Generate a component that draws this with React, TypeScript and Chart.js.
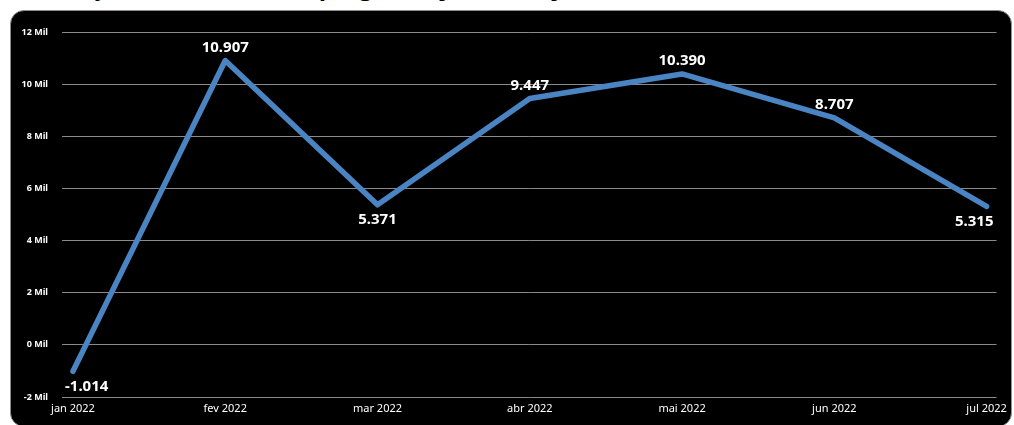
import { useEffect, useRef } from "react";
import { Chart, registerables } from "chart.js";

Chart.register(...registerables);

const categories = ["jan 2022", "fev 2022", "mar 2022", "abr 2022", "mai 2022", "jun 2022", "jul 2022"];
const values = [-1014, 10907, 5371, 9447, 10390, 8707, 5315];
const yMin = -2000;
const yMax = 12000;
const yStep = 2000;
const titleText = "Evolução do saldo de empregos de janeiro a julho, 2022";

function fmtThousands(v: number): string {
  const sign = v < 0 ? "-" : "";
  const s = Math.abs(Math.round(v)).toString();
  return sign + s.replace(/\B(?=(\d{3})+(?!\d))/g, ".");
}

const valueLabels = {
  id: "valueLabels",
  afterDatasetsDraw(chart: any) {
    const meta = chart.getDatasetMeta(0);
    const ctx = chart.ctx;
    const area = chart.chartArea;
    ctx.save();
    ctx.font = "bold 15px 'Noto Sans'";
    ctx.fillStyle = "#ffffff";
    ctx.textBaseline = "middle";
    ctx.textAlign = "center";
    meta.data.forEach((pt: any, i: number) => {
      const v = values[i];
      const nb = [values[i - 1], values[i + 1]].filter((n) => n !== undefined);
      const below = nb.every((n) => n > v);
      const text = fmtThousands(v);
      const w = ctx.measureText(text).width;
      const x = Math.min(Math.max(pt.x, area.left + w / 2 + 3), area.right - w / 2 - 3);
      const y = below ? pt.y + 15 : pt.y - 13;
      ctx.fillText(text, x, y);
    });
    ctx.restore();
  },
};

export default function App() {
  const canvasRef = useRef<HTMLCanvasElement | null>(null);

  useEffect(() => {
    if (!canvasRef.current) return;
    const chart = new Chart(canvasRef.current, {
      type: "line",
      data: {
        datasets: [
          {
            data: values.map((v, i) => ({ x: i, y: v })),
            borderColor: "#4A84C2",
            borderWidth: 5.5,
            borderCapStyle: "round",
            borderJoinStyle: "round",
            pointRadius: 0,
            pointHoverRadius: 0,
            tension: 0,
            fill: false,
          },
        ],
      },
      options: {
        animation: false,
        responsive: true,
        maintainAspectRatio: false,
        layout: { padding: { top: 22, right: 12, left: 0, bottom: 0 } },
        plugins: {
          legend: { display: false },
          tooltip: { enabled: false },
        },
        scales: {
          x: {
            type: "linear",
            min: -0.072,
            max: 6.065,
            afterBuildTicks: (s: any) => {
              s.ticks = categories.map((_, i) => ({ value: i }));
            },
            afterFit: (s: any) => {
              s.height = 27;
            },
            grid: { display: false, drawTicks: false },
            border: { display: false },
            ticks: {
              autoSkip: false,
              maxRotation: 0,
              padding: 5,
              color: "#ffffff",
              font: { family: "'Noto Sans'", size: 11 },
              callback: (v: any) => categories[Number(v)] ?? "",
            },
          },
          y: {
            min: yMin,
            max: yMax,
            afterFit: (s: any) => {
              s.width = 52;
            },
            grid: { color: "#8a8a8a", lineWidth: 1, drawTicks: false },
            border: { display: false },
            ticks: {
              stepSize: yStep,
              padding: 14,
              color: "#ffffff",
              font: { family: "'Noto Sans'", size: 9, weight: "bold" },
              callback: (v: any) => `${Number(v) / 1000} Mil`,
            },
          },
        },
      },
      plugins: [valueLabels],
    } as any);
    return () => chart.destroy();
  }, []);

  return (
    <div
      style={{
        position: "fixed",
        left: 0,
        top: 0,
        width: 1014,
        height: 425,
        background: "#ffffff",
        overflow: "hidden",
      }}
    >
      <div
        style={{
          position: "absolute",
          left: 26,
          top: -26,
          fontFamily: "'Open Sans'",
          fontWeight: "bold",
          fontSize: 24,
          lineHeight: 1,
          color: "#000000",
          whiteSpace: "nowrap",
        }}
      >
        {titleText}
      </div>
      <div
        style={{
          position: "absolute",
          left: 10,
          top: 10,
          width: 1002,
          height: 417,
          boxSizing: "border-box",
          background: "#000000",
          border: "1.5px solid #8c8c8c",
          borderRadius: 14,
        }}
      />
      <div style={{ position: "absolute", left: 10, top: 10, width: 1002, height: 414 }}>
        <canvas ref={canvasRef} />
      </div>
    </div>
  );
}
